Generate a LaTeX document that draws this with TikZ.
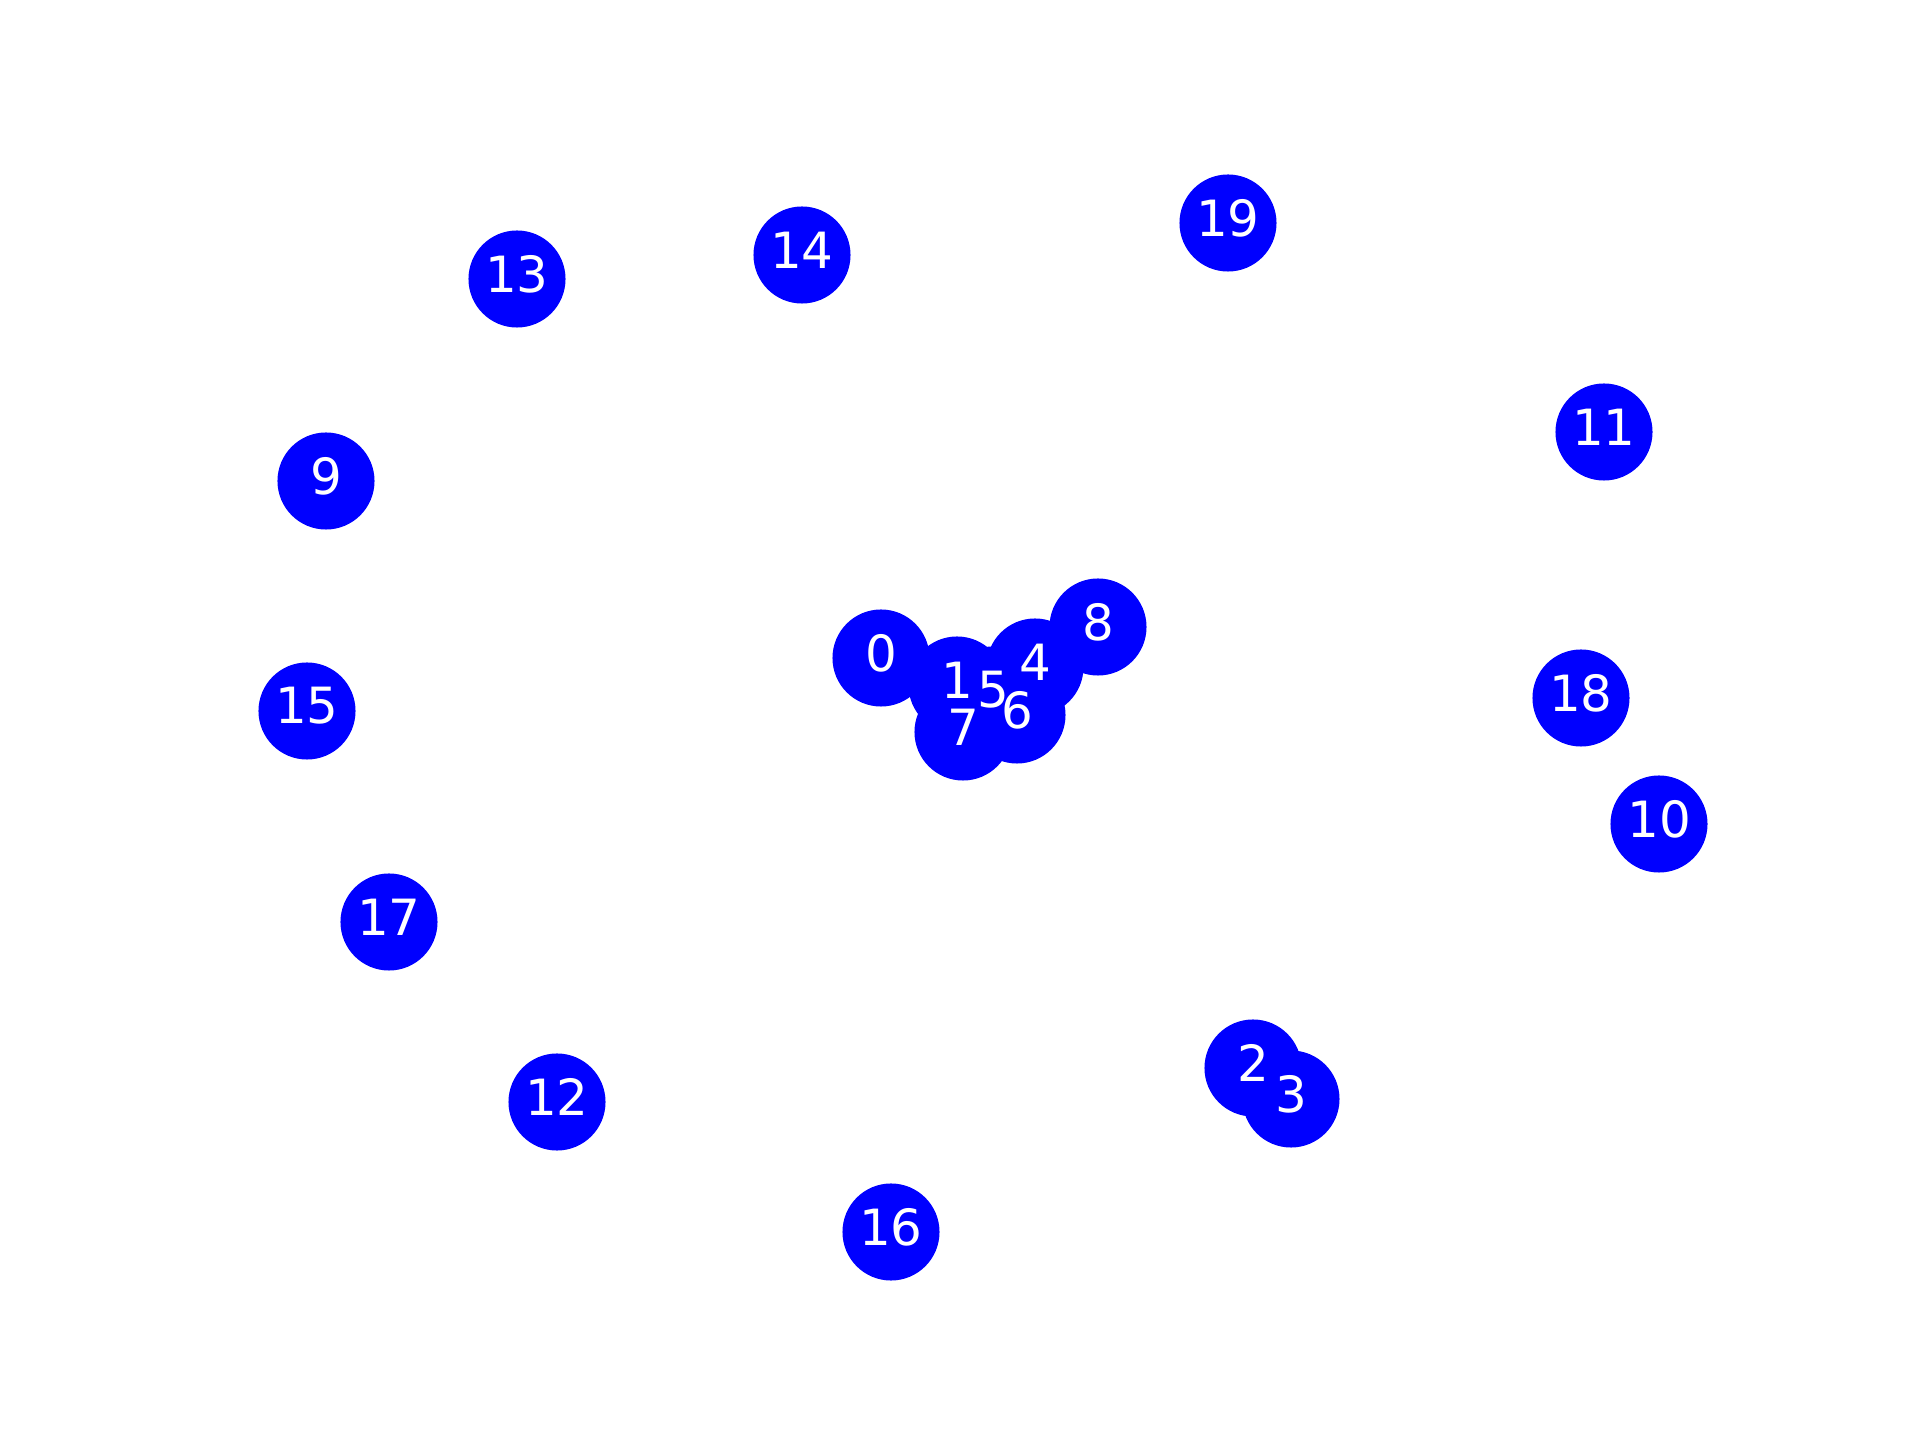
\documentclass[tikz,border=0pt]{standalone}
\usepackage{fontspec}
\setmainfont{DejaVu Sans}
\definecolor{nodeblue}{RGB}{0,0,255}
\tikzset{
  vtx/.style={circle, fill=nodeblue, draw=none, minimum size=0.97cm, inner sep=0pt},
  vlabel/.style={text=white, font=\fontsize{14.2}{16}\selectfont, inner sep=0pt, yshift=0.05cm}
}
\begin{document}
\begin{tikzpicture}[x=0.01cm,y=-0.01cm]
\useasboundingbox (0,0) rectangle (1920,1440);
% circles in drawing order
\node[vtx] (n0) at (881,658) {};
\node[vtx] (n1) at (957,685) {};
\node[vtx] (n2) at (1253,1068) {};
\node[vtx] (n3) at (1291,1099) {};
\node[vtx] (n4) at (1035,667) {};
\node[vtx] (n5) at (993,695) {};
\node[vtx] (n6) at (1017,715) {};
\node[vtx] (n7) at (963,732) {};
\node[vtx] (n8) at (1098,627) {};
\node[vtx] (n9) at (326,481) {};
\node[vtx] (n10) at (1659,824) {};
\node[vtx] (n11) at (1604,432) {};
\node[vtx] (n12) at (557,1102) {};
\node[vtx] (n13) at (517,279) {};
\node[vtx] (n14) at (802,255) {};
\node[vtx] (n15) at (307,711) {};
\node[vtx] (n16) at (891,1232) {};
\node[vtx] (n17) at (389,922) {};
\node[vtx] (n18) at (1581,698) {};
\node[vtx] (n19) at (1228,223) {};
% labels on top
\foreach \i in {0,...,19} {
  \node[vlabel] (l\i) at (n\i.center) {\i};
}
\end{tikzpicture}
\end{document}
